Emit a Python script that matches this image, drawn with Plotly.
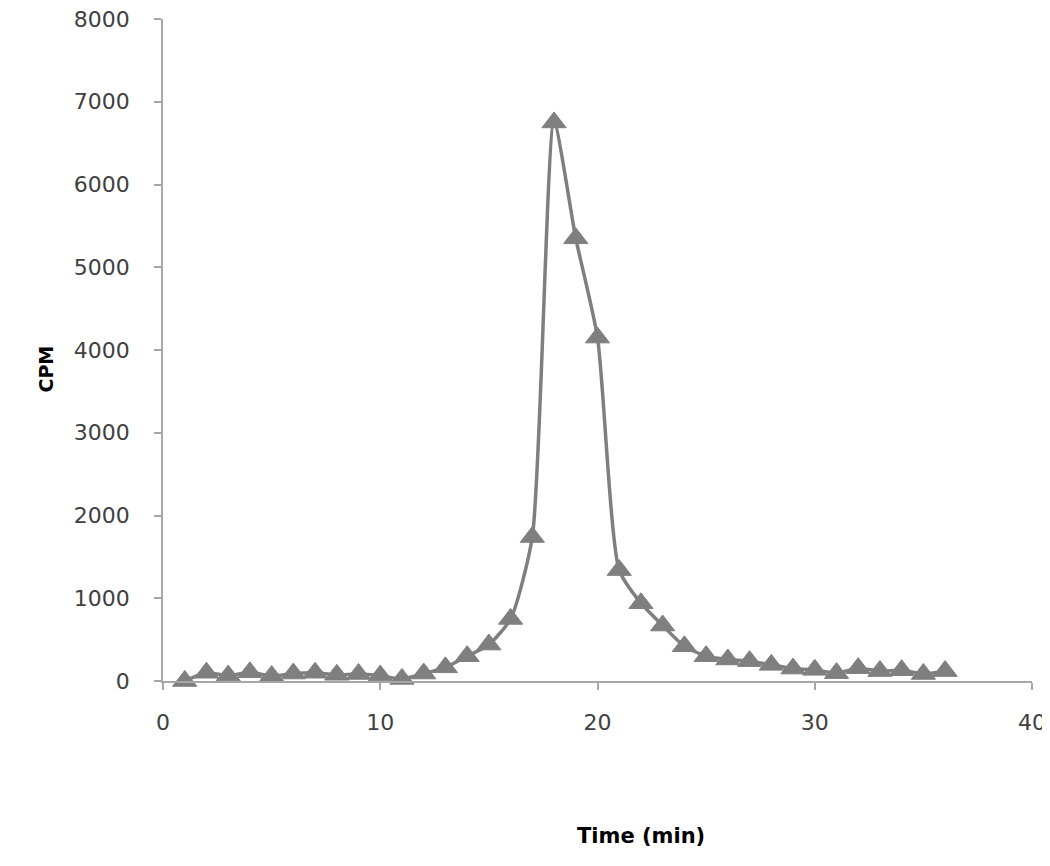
import plotly.graph_objects as go

time_min = list(range(1, 37))
cpm = [0, 100, 65, 105, 60, 90, 100, 75, 85, 65, 25, 90, 165, 300, 440, 750,
       1740, 6750, 5350, 4150, 1340, 940, 670, 420, 300, 260, 240, 195, 150,
       135, 95, 155, 120, 130, 85, 120]

x_ticks = [0, 10, 20, 30, 40]
y_ticks = [0, 1000, 2000, 3000, 4000, 5000, 6000, 7000, 8000]

gray = "#7f7f7f"
axis_color = "#a6a6a6"
font_family = "DejaVu Sans"

fig = go.Figure()
fig.add_trace(
    go.Scatter(
        x=time_min, y=cpm,
        mode="lines+markers",
        line=dict(color=gray, width=3.5, shape="spline", smoothing=0.6),
        marker=dict(symbol="triangle-up", size=21, color=gray,
                    line=dict(color=gray, width=1)),
        cliponaxis=False,
        showlegend=False,
    )
)

fig.update_xaxes(
    range=[0, 40], tickvals=x_ticks, showgrid=False, zeroline=False,
    showline=True, linecolor=axis_color, linewidth=1.5,
    ticks="outside", ticklen=7, tickcolor=axis_color, tickwidth=1.5,
    tickfont=dict(family=font_family, size=22, color="#404040"),
    ticklabelstandoff=14, automargin=False, ticklabeloverflow="allow",
)
fig.update_yaxes(
    range=[0, 8000], tickvals=y_ticks, showgrid=False, zeroline=False,
    showline=True, linecolor=axis_color, linewidth=1.5,
    ticks="outside", ticklen=7, tickcolor=axis_color, tickwidth=1.5,
    tickfont=dict(family=font_family, size=22, color="#404040"),
    ticklabelstandoff=20, automargin=False, ticklabeloverflow="allow",
)

fig.add_annotation(
    text="<b>Time (min)</b>", xref="paper", yref="paper",
    x=0.55, y=-0.256, showarrow=False,
    font=dict(family=font_family, size=21, color="#000000"),
)
fig.add_annotation(
    text="<b>CPM</b>", xref="paper", yref="paper",
    x=-0.1496, y=0.472, textangle=-90, showarrow=False,
    font=dict(family=font_family, size=19, color="#000000"),
)

# page body has an 8px margin, so shift everything up/left by that
fig.update_layout(
    width=1042, height=858,
    margin=dict(l=155, r=18, t=11, b=185),
    plot_bgcolor="white", paper_bgcolor="white",
)

fig.write_html("out.html")
